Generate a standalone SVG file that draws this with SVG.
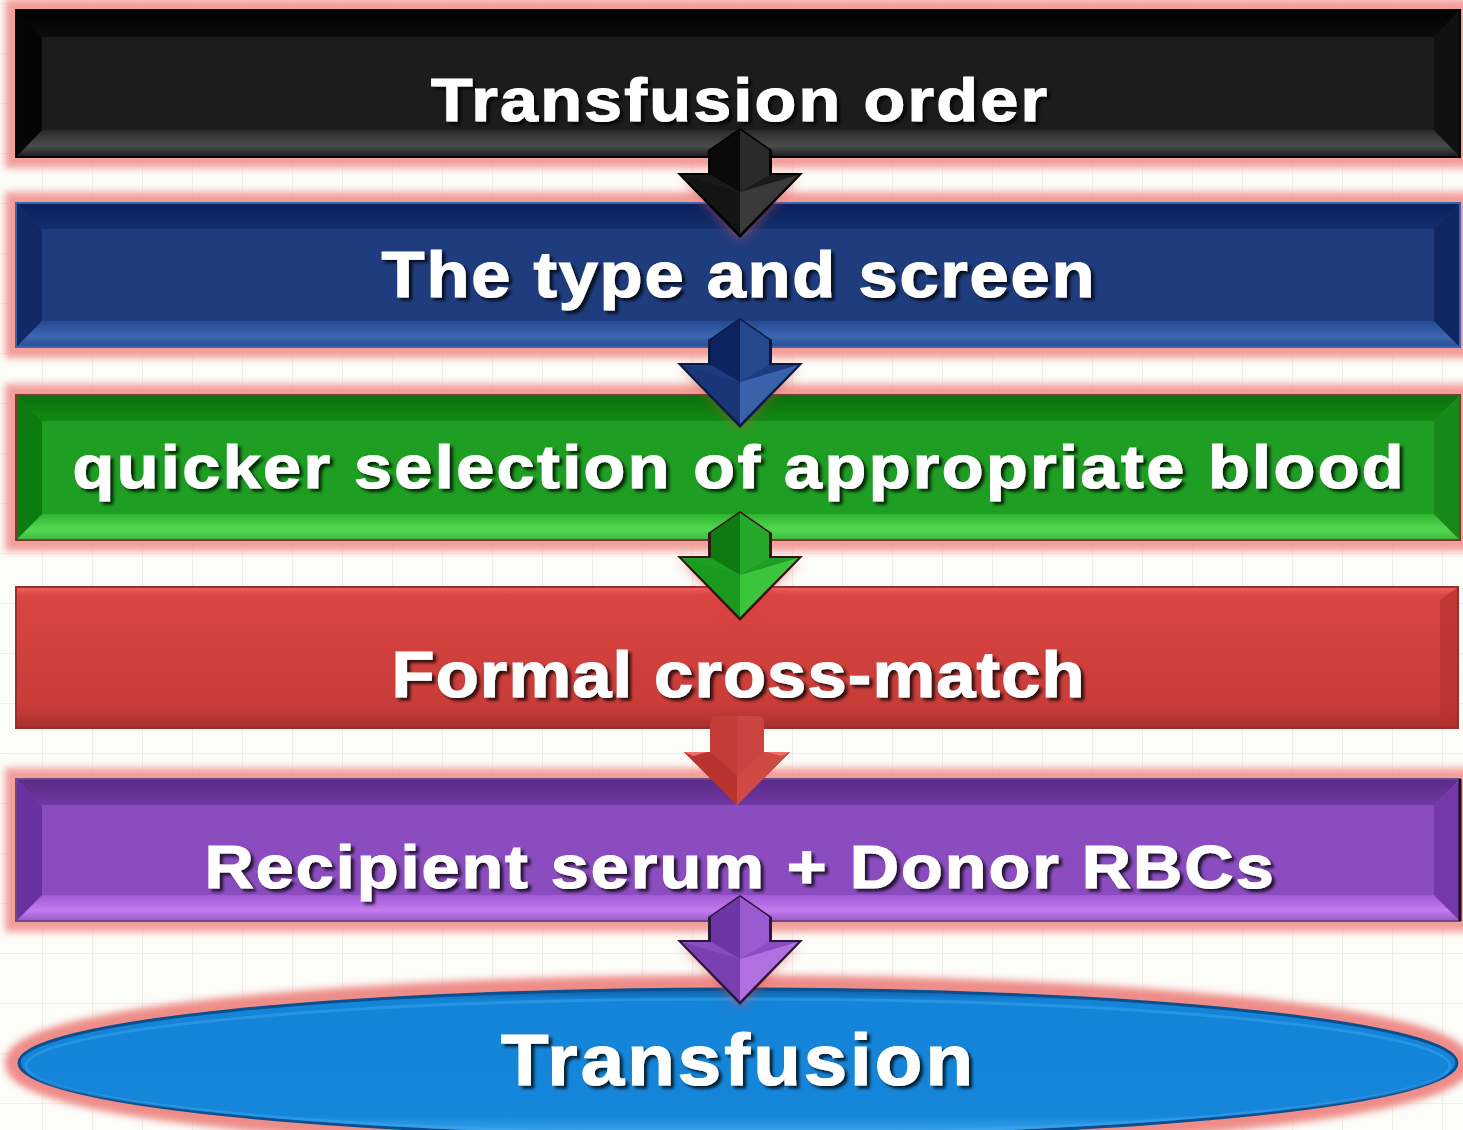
<svg xmlns="http://www.w3.org/2000/svg" width="1463" height="1130" viewBox="0 0 1463 1130">
  <defs>
    <pattern id="grid" x="42" y="3" width="50" height="50" patternUnits="userSpaceOnUse">
      <path d="M0 0V50M0 0H50" fill="none" stroke="#e2e2dc" stroke-width="1.2"/>
    </pattern>
    <filter id="glow" x="-5%" y="-30%" width="110%" height="160%">
      <feGaussianBlur stdDeviation="3.5"/>
    </filter>
    <filter id="tshadow" x="-5%" y="-30%" width="110%" height="160%">
      <feDropShadow dx="3" dy="3" stdDeviation="1.5" flood-color="#000" flood-opacity="0.75"/>
    </filter>
    <filter id="ashadow" x="-30%" y="-30%" width="160%" height="160%">
      <feGaussianBlur stdDeviation="6"/>
    </filter>

    <!-- bevel gradients per colour -->
    <linearGradient id="kTop" x1="0" y1="0" x2="0" y2="1"><stop offset="0" stop-color="#000"/><stop offset="1" stop-color="#0c0c0c"/></linearGradient>
    <linearGradient id="kBot" x1="0" y1="0" x2="0" y2="1"><stop offset="0" stop-color="#2a2a2a"/><stop offset="0.6" stop-color="#4c4c4c"/><stop offset="1" stop-color="#1a1a1a"/></linearGradient>
    <linearGradient id="bTop" x1="0" y1="0" x2="0" y2="1"><stop offset="0" stop-color="#0a1f5c"/><stop offset="1" stop-color="#13306e"/></linearGradient>
    <linearGradient id="bBot" x1="0" y1="0" x2="0" y2="1"><stop offset="0" stop-color="#244a92"/><stop offset="0.6" stop-color="#3d66b4"/><stop offset="1" stop-color="#2a508e"/></linearGradient>
    <linearGradient id="gTop" x1="0" y1="0" x2="0" y2="1"><stop offset="0" stop-color="#0a6e0c"/><stop offset="1" stop-color="#128a14"/></linearGradient>
    <linearGradient id="gBot" x1="0" y1="0" x2="0" y2="1"><stop offset="0" stop-color="#2fb530"/><stop offset="0.6" stop-color="#54d852"/><stop offset="1" stop-color="#3fb83e"/></linearGradient>
    <linearGradient id="pTop" x1="0" y1="0" x2="0" y2="1"><stop offset="0" stop-color="#5a2a88"/><stop offset="1" stop-color="#6e38a0"/></linearGradient>
    <linearGradient id="pBot" x1="0" y1="0" x2="0" y2="1"><stop offset="0" stop-color="#a25ad6"/><stop offset="0.6" stop-color="#c47cf0"/><stop offset="1" stop-color="#9a58c8"/></linearGradient>
    <linearGradient id="rFace" x1="0" y1="0" x2="0" y2="1"><stop offset="0" stop-color="#ee6462"/><stop offset="0.06" stop-color="#da4542"/><stop offset="0.85" stop-color="#c83c38"/><stop offset="1" stop-color="#a8302c"/></linearGradient>
    <linearGradient id="eFace" x1="0" y1="0" x2="0" y2="1"><stop offset="0" stop-color="#0c5aa0"/><stop offset="0.08" stop-color="#1484d8"/><stop offset="0.85" stop-color="#1686da"/><stop offset="1" stop-color="#46aef2"/></linearGradient>

    <style>
      .lbl { font-family: "Liberation Sans", Arial, "DejaVu Sans", sans-serif; font-weight: bold; fill: #ffffff; stroke: #ffffff; stroke-width: 1.2; text-anchor: middle; filter: url(#tshadow); }
      .halo { fill: none; stroke: #f39e9a; stroke-width: 22; filter: url(#glow); }
      .edge { fill: none; stroke-width: 2; }
    </style>
  </defs>

  <!-- paper with grid -->
  <rect width="1463" height="1130" fill="#fcfcf8"/>
  <rect width="1463" height="1130" fill="url(#grid)"/>

  <!-- Transfusion order -->
  <g id="node-order">
    <rect class="halo" x="16" y="10" width="1444" height="147"/>
    <rect x="16" y="10" width="1444" height="147" fill="#1c1c1c"/>
    <path d="M16 10H1460L1434 37H42Z" fill="url(#kTop)"/>
    <path d="M16 157H1460L1434 130H42Z" fill="url(#kBot)"/>
    <path d="M16 10L42 37V130L16 157Z" fill="#050505"/>
    <path d="M1460 10L1434 37V130L1460 157Z" fill="#111"/>
    <rect class="edge" x="16" y="10" width="1444" height="147" stroke="#000"/>
    <text class="lbl" transform="translate(739 121) scale(1.1 1)" x="0" y="0" font-size="62" textLength="560" lengthAdjust="spacing">Transfusion order</text>
  </g>

  <!-- The type and screen -->
  <g id="node-screen">
    <rect class="halo" x="16" y="203" width="1444" height="144"/>
    <rect x="16" y="203" width="1444" height="144" fill="#1f3c7e"/>
    <path d="M16 203H1460L1434 229H42Z" fill="url(#bTop)"/>
    <path d="M16 347H1460L1434 321H42Z" fill="url(#bBot)"/>
    <path d="M16 203L42 229V321L16 347Z" fill="#112a66"/>
    <path d="M1460 203L1434 229V321L1460 347Z" fill="#0f2660"/>
    <rect class="edge" x="16" y="203" width="1444" height="144" stroke="#3c64ae"/>
    <text class="lbl" transform="translate(738 297) scale(1.1 1)" x="0" y="0" font-size="64" textLength="648" lengthAdjust="spacing">The type and screen</text>
  </g>

  <!-- quicker selection of appropriate blood -->
  <g id="node-selection">
    <rect class="halo" x="16" y="395" width="1444" height="145"/>
    <rect x="16" y="395" width="1444" height="145" fill="#1e9e22"/>
    <path d="M16 395H1460L1434 421H42Z" fill="url(#gTop)"/>
    <path d="M16 540H1460L1434 514H42Z" fill="url(#gBot)"/>
    <path d="M16 395L42 421V514L16 540Z" fill="#0d7c10"/>
    <path d="M1460 395L1434 421V514L1460 540Z" fill="#178a1a"/>
    <rect class="edge" x="16" y="395" width="1444" height="145" stroke="#7a3a34"/>
    <text class="lbl" transform="translate(738 488) scale(1.1 1)" x="0" y="0" font-size="62" textLength="1210" lengthAdjust="spacing">quicker selection of appropriate blood</text>
  </g>

  <!-- Formal cross-match -->
  <g id="node-crossmatch">
    <rect x="16" y="587" width="1442" height="141" fill="url(#rFace)"/>
    <path d="M1458 587L1440 600V716L1458 728Z" fill="#b8322e" opacity="0.7"/>
    <rect class="edge" x="16" y="587" width="1442" height="141" stroke="#9a2e2a" stroke-width="1.5"/>
    <text class="lbl" transform="translate(738 697) scale(1.1 1)" x="0" y="0" font-size="64" textLength="630" lengthAdjust="spacing">Formal cross-match</text>
  </g>

  <!-- Recipient serum + Donor RBCs -->
  <g id="node-serum">
    <rect class="halo" x="16" y="779" width="1444" height="142"/>
    <rect x="16" y="779" width="1444" height="142" fill="#8b4cc0"/>
    <path d="M16 779H1460L1434 805H42Z" fill="url(#pTop)"/>
    <path d="M16 921H1460L1434 895H42Z" fill="url(#pBot)"/>
    <path d="M16 779L42 805V895L16 921Z" fill="#6a32a0"/>
    <path d="M1460 779L1434 805V895L1460 921Z" fill="#7438aa"/>
    <rect class="edge" x="16" y="779" width="1444" height="142" stroke="#6b4a8a"/>
    <path d="M1460 779V921" stroke="#1a1020" stroke-width="3"/>
    <text class="lbl" transform="translate(739 888) scale(1.1 1)" x="0" y="0" font-size="62" textLength="972" lengthAdjust="spacing">Recipient serum + Donor RBCs</text>
  </g>

  <!-- Transfusion -->
  <g id="node-transfusion">
    <ellipse cx="738" cy="1063" rx="722" ry="77" fill="none" stroke="#ee8c88" stroke-width="22" filter="url(#glow)"/>
    <ellipse cx="738" cy="1063" rx="720" ry="75" fill="url(#eFace)"/>
    <ellipse cx="738" cy="1063" rx="719" ry="74" fill="none" stroke="#0b4f8e" stroke-width="3"/>
    <ellipse cx="738" cy="1066" rx="712" ry="67" fill="none" stroke="#3aa6ee" stroke-width="3" opacity="0.5"/>
    <text class="lbl" transform="translate(737 1085) scale(1.08 1)" x="0" y="0" font-size="72" textLength="437" lengthAdjust="spacing">Transfusion</text>
  </g>

  <!-- connectors: bevelled down arrows -->
  <g id="connectors">
    <!-- order -> screen -->
    <g transform="translate(740 130)">
      <path d="M-58 48H58L0 110Z" fill="#e05050" opacity="0.55" filter="url(#ashadow)"/>
      <path d="M0 -2L32 20V43H63L0 108L-63 43H-32V20Z" fill="#000"/>
      <path d="M0 0L29 20V45H58L0 104L-58 45H-29V20Z" fill="#1a1a1a"/>
      <path d="M0 0L29 20V45L0 62Z" fill="#2a2a2a"/>
      <path d="M0 0L-29 20V45L0 62Z" fill="#0a0a0a"/>
      <path d="M0 62L58 45L0 104Z" fill="#3a3a3a"/>
      <path d="M0 62L-58 45L0 104Z" fill="#141414"/>
    </g>
    <!-- screen -> selection -->
    <g transform="translate(740 320)">
      <path d="M-58 48H58L0 110Z" fill="#c04a3a" opacity="0.5" filter="url(#ashadow)"/>
      <path d="M0 -2L32 20V43H63L0 108L-63 43H-32V20Z" fill="#0a1a40"/>
      <path d="M0 0L29 20V45H58L0 104L-58 45H-29V20Z" fill="#1d3b80"/>
      <path d="M0 0L29 20V45L0 62Z" fill="#25478e"/>
      <path d="M0 0L-29 20V45L0 62Z" fill="#0e2460"/>
      <path d="M0 62L58 45L0 104Z" fill="#3a62aa"/>
      <path d="M0 62L-58 45L0 104Z" fill="#1a3678"/>
    </g>
    <!-- selection -> cross-match -->
    <g transform="translate(740 513)">
      <path d="M-58 48H58L0 110Z" fill="#e03a3a" opacity="0.5" filter="url(#ashadow)"/>
      <path d="M0 -2L32 20V43H63L0 108L-63 43H-32V20Z" fill="#3a1414"/>
      <path d="M0 0L29 20V45H58L0 104L-58 45H-29V20Z" fill="#1e9e22"/>
      <path d="M0 0L29 20V45L0 62Z" fill="#26a82a"/>
      <path d="M0 0L-29 20V45L0 62Z" fill="#0e7a12"/>
      <path d="M0 62L58 45L0 104Z" fill="#3cc43c"/>
      <path d="M0 62L-58 45L0 104Z" fill="#1a9a1e"/>
    </g>
    <!-- cross-match -> serum -->
    <g transform="translate(737 716)">
      <path d="M-27 6Q-27 0 -20 0H20Q27 0 27 6V36H53L0 89L-53 36H-27Z" fill="#c43c36"/>
      <path d="M0 0H20Q27 0 27 6V36H53L0 89Z" fill="#cc4440"/>
      <path d="M-53 36H-27L0 60L0 89Z" fill="#b8322e"/>
      <path d="M53 36H27L0 60L0 89Z" fill="#d04a44"/>
      <path d="M-53 36H-30L-44 40Z" fill="#f07070"/>
      <path d="M53 36H30L44 40Z" fill="#f07070"/>
    </g>
    <!-- serum -> transfusion -->
    <g transform="translate(740 897)">
      <path d="M-58 48H58L0 110Z" fill="#e04a4a" opacity="0.5" filter="url(#ashadow)"/>
      <path d="M0 -2L32 20V43H63L0 108L-63 43H-32V20Z" fill="#2a1838"/>
      <path d="M0 0L29 20V45H58L0 104L-58 45H-29V20Z" fill="#8a4cc0"/>
      <path d="M0 0L29 20V45L0 62Z" fill="#9a5ad0"/>
      <path d="M0 0L-29 20V45L0 62Z" fill="#6e36a4"/>
      <path d="M0 62L58 45L0 104Z" fill="#b070e0"/>
      <path d="M0 62L-58 45L0 104Z" fill="#7a40b0"/>
    </g>
  </g>
</svg>
